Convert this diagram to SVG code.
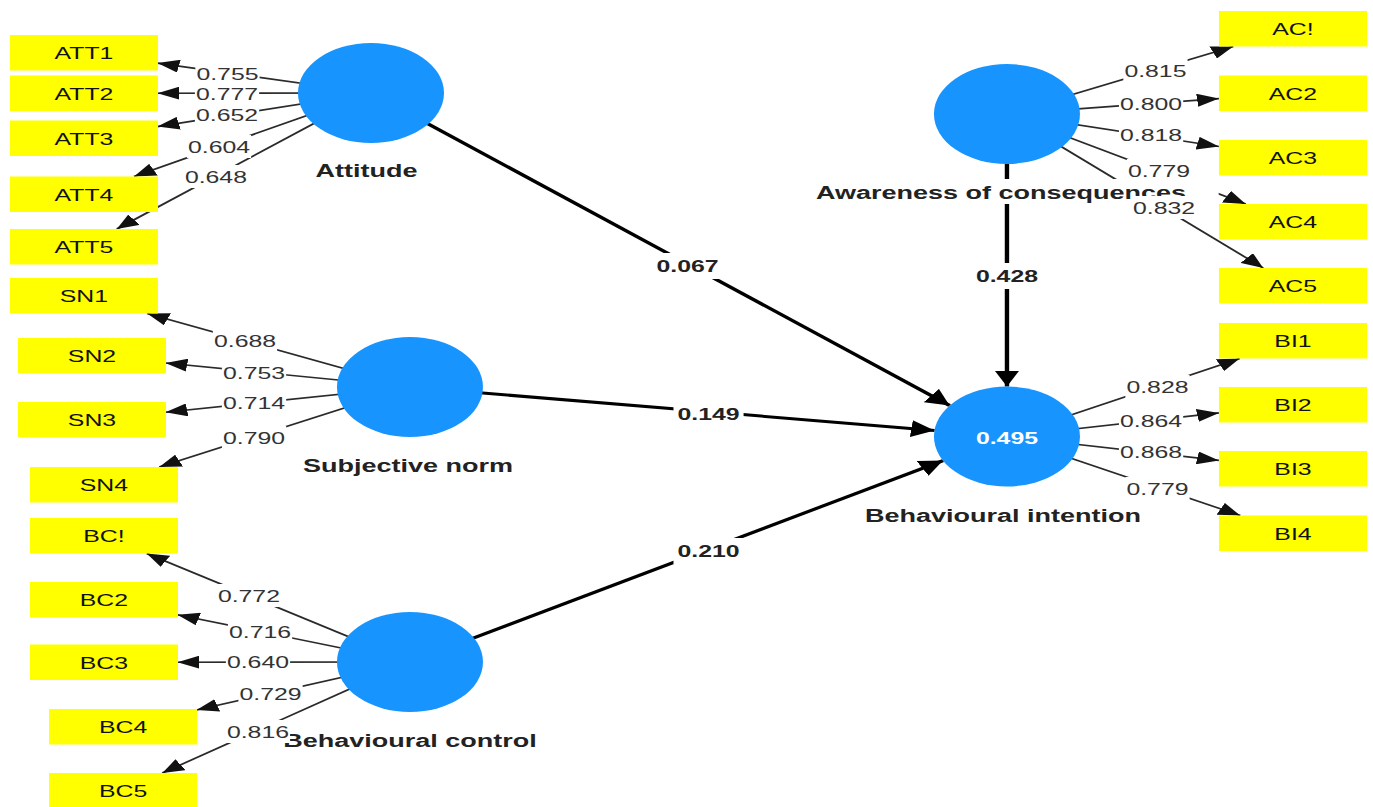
<svg xmlns="http://www.w3.org/2000/svg" width="1373" height="807" viewBox="0 0 1373 807">
<defs>
<style>
.ld{stroke:#2a2a2a;stroke-width:1.6;fill:none;marker-end:url(#ah)}
.pt{stroke:#000;stroke-width:3;fill:none;marker-end:url(#ahp)}
.lv{fill:#1794fe}
.box{fill:#ffff00}
.bt{font-family:"Liberation Sans",Arial,sans-serif;font-size:17px;fill:#111;text-anchor:middle}
.cn{font-family:"Liberation Sans",Arial,sans-serif;font-size:18.5px;font-weight:bold;fill:#222;text-anchor:middle}
.r2{font-family:"Liberation Sans",Arial,sans-serif;font-size:17px;font-weight:bold;fill:#fff;text-anchor:middle}
.lt{font-family:"Liberation Sans",Arial,sans-serif;font-size:17px;fill:#333;text-anchor:middle}
.pl{font-family:"Liberation Sans",Arial,sans-serif;font-size:17px;font-weight:bold;fill:#222;text-anchor:middle}
.bg{fill:#fff}
</style>
<marker id="ah" markerUnits="userSpaceOnUse" viewBox="0 0 15 13" markerWidth="15" markerHeight="13" refX="15" refY="6.5" orient="auto"><path d="M0,0 L15,6.5 L0,13 z" fill="#111"/></marker>
<marker id="ahp" markerUnits="userSpaceOnUse" viewBox="0 0 16 17" markerWidth="16" markerHeight="17" refX="16" refY="8.5" orient="auto"><path d="M0,0 L16,8.5 L0,17 z" fill="#000"/></marker>
</defs>
<rect x="0" y="0" width="1373" height="807" fill="#fff"/>
<g transform="scale(1.46 1)">
<g id="connectors">
<line class="ld" x1="254.1" y1="93" x2="107.8" y2="63.1"/>
<line class="ld" x1="254.1" y1="93" x2="107.8" y2="93.2"/>
<line class="ld" x1="254.1" y1="93" x2="107.8" y2="126.6"/>
<line class="ld" x1="254.1" y1="93" x2="91.8" y2="176.5"/>
<line class="ld" x1="254.1" y1="93" x2="80" y2="229"/>
<line class="ld" x1="280.8" y1="387" x2="100.8" y2="313.5"/>
<line class="ld" x1="280.8" y1="387" x2="113.3" y2="363"/>
<line class="ld" x1="280.8" y1="387" x2="113.3" y2="412.2"/>
<line class="ld" x1="280.8" y1="387" x2="109.1" y2="467"/>
<line class="ld" x1="280.8" y1="662" x2="100.5" y2="553.5"/>
<line class="ld" x1="280.8" y1="662" x2="121.5" y2="614.7"/>
<line class="ld" x1="280.8" y1="662" x2="121.5" y2="662.2"/>
<line class="ld" x1="280.8" y1="662" x2="134.6" y2="710.1"/>
<line class="ld" x1="280.8" y1="662" x2="111.2" y2="773"/>
<line class="ld" x1="689.7" y1="114" x2="844.7" y2="46.5"/>
<line class="ld" x1="689.7" y1="114" x2="834.9" y2="98.6"/>
<line class="ld" x1="689.7" y1="114" x2="834.9" y2="146.5"/>
<line class="ld" x1="689.7" y1="114" x2="853.2" y2="204"/>
<line class="ld" x1="689.7" y1="114" x2="865.2" y2="268"/>
<line class="ld" x1="689.7" y1="436.5" x2="849.1" y2="358.5"/>
<line class="ld" x1="689.7" y1="436.5" x2="834.9" y2="412.9"/>
<line class="ld" x1="689.7" y1="436.5" x2="834.9" y2="460.4"/>
<line class="ld" x1="689.7" y1="436.5" x2="849.5" y2="515.5"/>
<line class="pt" x1="254.1" y1="93" x2="650.4" y2="405.5"/>
<line class="pt" x1="280.8" y1="387" x2="640.1" y2="430.5"/>
<line class="pt" x1="280.8" y1="662" x2="645.9" y2="460.6"/>
<line class="pt" x1="689.7" y1="114" x2="689.7" y2="386.5"/>
</g>
<g id="att1"><rect class="box" x="6.8" y="35" width="101.4" height="35.5"/><text class="bt" x="57.5" y="59.3">ATT1</text></g>
<g id="att2"><rect class="box" x="6.8" y="75.5" width="101.4" height="35.5"/><text class="bt" x="57.5" y="99.8">ATT2</text></g>
<g id="att3"><rect class="box" x="6.8" y="120.5" width="101.4" height="35.5"/><text class="bt" x="57.5" y="144.8">ATT3</text></g>
<g id="att4"><rect class="box" x="6.8" y="176.5" width="101.4" height="35.5"/><text class="bt" x="57.5" y="200.8">ATT4</text></g>
<g id="att5"><rect class="box" x="6.8" y="229" width="101.4" height="35.5"/><text class="bt" x="57.5" y="253.3">ATT5</text></g>
<g id="sn1"><rect class="box" x="6.8" y="278" width="101.4" height="35.5"/><text class="bt" x="57.5" y="302.3">SN1</text></g>
<g id="sn2"><rect class="box" x="12.3" y="338" width="101.4" height="35.5"/><text class="bt" x="63" y="362.3">SN2</text></g>
<g id="sn3"><rect class="box" x="12.3" y="402" width="101.4" height="35.5"/><text class="bt" x="63" y="426.3">SN3</text></g>
<g id="sn4"><rect class="box" x="20.5" y="467" width="101.4" height="35.5"/><text class="bt" x="71.2" y="491.3">SN4</text></g>
<g id="bc1"><rect class="box" x="20.5" y="518" width="101.4" height="35.5"/><text class="bt" x="71.2" y="542.3">BC!</text></g>
<g id="bc2"><rect class="box" x="20.5" y="582" width="101.4" height="35.5"/><text class="bt" x="71.2" y="606.3">BC2</text></g>
<g id="bc3"><rect class="box" x="20.5" y="644.5" width="101.4" height="35.5"/><text class="bt" x="71.2" y="668.8">BC3</text></g>
<g id="bc4"><rect class="box" x="33.6" y="709" width="101.4" height="35.5"/><text class="bt" x="84.3" y="733.3">BC4</text></g>
<g id="bc5"><rect class="box" x="33.6" y="773" width="101.4" height="35.5"/><text class="bt" x="84.3" y="797.3">BC5</text></g>
<g id="ac1"><rect class="box" x="834.9" y="11" width="101.4" height="35.5"/><text class="bt" x="885.6" y="35.3">AC!</text></g>
<g id="ac2"><rect class="box" x="834.9" y="75.5" width="101.4" height="35.5"/><text class="bt" x="885.6" y="99.8">AC2</text></g>
<g id="ac3"><rect class="box" x="834.9" y="140" width="101.4" height="35.5"/><text class="bt" x="885.6" y="164.3">AC3</text></g>
<g id="ac4"><rect class="box" x="834.9" y="204" width="101.4" height="35.5"/><text class="bt" x="885.6" y="228.3">AC4</text></g>
<g id="ac5"><rect class="box" x="834.9" y="268" width="101.4" height="35.5"/><text class="bt" x="885.6" y="292.3">AC5</text></g>
<g id="bi1"><rect class="box" x="834.9" y="323" width="101.4" height="35.5"/><text class="bt" x="885.6" y="347.3">BI1</text></g>
<g id="bi2"><rect class="box" x="834.9" y="387" width="101.4" height="35.5"/><text class="bt" x="885.6" y="411.3">BI2</text></g>
<g id="bi3"><rect class="box" x="834.9" y="451" width="101.4" height="35.5"/><text class="bt" x="885.6" y="475.3">BI3</text></g>
<g id="bi4"><rect class="box" x="834.9" y="515.5" width="101.4" height="35.5"/><text class="bt" x="885.6" y="539.8">BI4</text></g>
<g id="attitude"><ellipse class="lv" cx="254.1" cy="93" rx="50" ry="50"/><text class="cn" x="251" y="177">Attitude</text></g>
<g id="subjective-norm"><ellipse class="lv" cx="280.8" cy="387" rx="50" ry="50"/><text class="cn" x="279.5" y="472">Subjective norm</text></g>
<g id="behavioural-control"><ellipse class="lv" cx="280.8" cy="662" rx="50" ry="50"/><text class="cn" x="280.8" y="747">Behavioural control</text></g>
<g id="awareness"><ellipse class="lv" cx="689.7" cy="114" rx="50" ry="50"/><rect class="bg" x="537.7" y="179" width="297" height="25"/><text class="cn" x="685.6" y="199">Awareness of consequences</text></g>
<g id="behavioural-intention"><ellipse class="lv" cx="689.7" cy="436.5" rx="50" ry="50"/><text class="r2" x="689.7" y="444">0.495</text><text class="cn" x="687" y="522">Behavioural intention</text></g>
<g id="connector-labels">
<rect class="bg" x="133.8" y="62" width="44" height="23"/><text class="lt" x="155.8" y="80">0.755</text>
<rect class="bg" x="133.5" y="82" width="44" height="23"/><text class="lt" x="155.5" y="100">0.777</text>
<rect class="bg" x="133.5" y="103" width="44" height="23"/><text class="lt" x="155.5" y="121">0.652</text>
<rect class="bg" x="128" y="135" width="44" height="23"/><text class="lt" x="150" y="153">0.604</text>
<rect class="bg" x="125.9" y="165" width="44" height="23"/><text class="lt" x="147.9" y="183">0.648</text>
<rect class="bg" x="145.8" y="329" width="44" height="23"/><text class="lt" x="167.8" y="347">0.688</text>
<rect class="bg" x="152" y="361" width="44" height="23"/><text class="lt" x="174" y="379">0.753</text>
<rect class="bg" x="152" y="391" width="44" height="23"/><text class="lt" x="174" y="409">0.714</text>
<rect class="bg" x="152" y="426" width="44" height="23"/><text class="lt" x="174" y="444">0.790</text>
<rect class="bg" x="148.5" y="584" width="44" height="23"/><text class="lt" x="170.5" y="602">0.772</text>
<rect class="bg" x="156.1" y="620" width="44" height="23"/><text class="lt" x="178.1" y="638">0.716</text>
<rect class="bg" x="154.7" y="650" width="44" height="23"/><text class="lt" x="176.7" y="668">0.640</text>
<rect class="bg" x="163.3" y="682" width="44" height="23"/><text class="lt" x="185.3" y="700">0.729</text>
<rect class="bg" x="154.7" y="720" width="44" height="23"/><text class="lt" x="176.7" y="738">0.816</text>
<rect class="bg" x="769.4" y="59" width="44" height="23"/><text class="lt" x="791.4" y="77">0.815</text>
<rect class="bg" x="766.4" y="92" width="44" height="23"/><text class="lt" x="788.4" y="110">0.800</text>
<rect class="bg" x="766.4" y="123" width="44" height="23"/><text class="lt" x="788.4" y="141">0.818</text>
<rect class="bg" x="771.8" y="159" width="44" height="23"/><text class="lt" x="793.8" y="177">0.779</text>
<rect class="bg" x="775.3" y="196" width="44" height="23"/><text class="lt" x="797.3" y="214">0.832</text>
<rect class="bg" x="770.8" y="375" width="44" height="23"/><text class="lt" x="792.8" y="393">0.828</text>
<rect class="bg" x="766.4" y="409" width="44" height="23"/><text class="lt" x="788.4" y="427">0.864</text>
<rect class="bg" x="766.4" y="440" width="44" height="23"/><text class="lt" x="788.4" y="458">0.868</text>
<rect class="bg" x="770.8" y="477" width="44" height="23"/><text class="lt" x="792.8" y="495">0.779</text>
<rect class="bg" x="446.9" y="253" width="48" height="26"/><text class="pl" x="470.9" y="272">0.067</text>
<rect class="bg" x="461.3" y="401" width="48" height="26"/><text class="pl" x="485.3" y="420">0.149</text>
<rect class="bg" x="461.3" y="538" width="48" height="26"/><text class="pl" x="485.3" y="557">0.210</text>
<rect class="bg" x="665.7" y="263" width="48" height="26"/><text class="pl" x="689.7" y="282">0.428</text>
</g>
</g>
</svg>
